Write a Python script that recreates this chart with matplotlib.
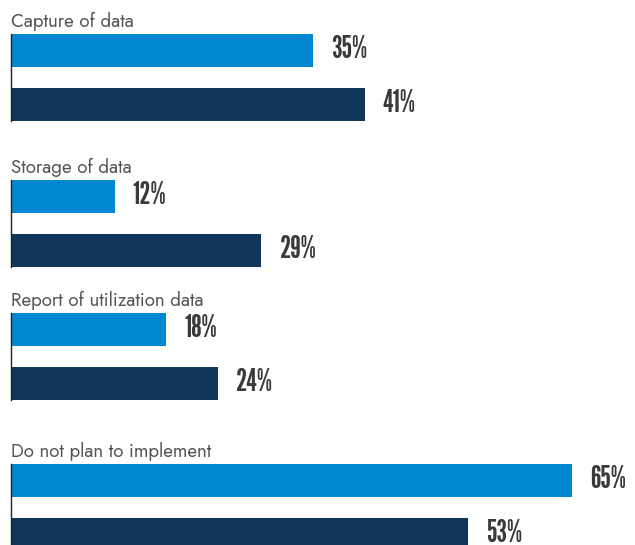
import matplotlib.pyplot as plt

categories = ["Capture of data", "Storage of data", "Report of utilization data",
              "Do not plan to implement"]
series_a = [35, 12, 18, 65]
series_b = [41, 29, 24, 53]

light = "#0288d1"
dark = "#10365a"

# layout in pixel rows (top of the first bar of each group)
group_tops = [34, 180, 313, 464]
bar_h = 33
gap = 54

label_font = ["Jost", "DejaVu Sans"]
num_font = ["League Gothic", "Pathway Gothic One", "DejaVu Sans"]

fig = plt.figure(figsize=(6.35, 5.45), dpi=100)
ax = fig.add_axes([11 / 635, 0, 1 - 11 / 635, 1])
ax.set_xlim(0, 624 / 8.63)
ax.set_ylim(545, 0)
ax.axis("off")

for cat, a, b, top in zip(categories, series_a, series_b, group_tops):
    ya = top + bar_h / 2
    yb = ya + gap
    ax.barh(ya, a, height=bar_h, color=light)
    ax.barh(yb, b, height=bar_h, color=dark)
    ax.plot([0, 0], [top, yb + bar_h / 2], color="#222222", lw=1, clip_on=False)
    ax.text(0, top - 7, cat, fontsize=13.5, color="#555555", va="baseline", ha="left",
            family=label_font)
    for v, y in [(a, ya), (b, yb)]:
        ax.text(v + 2.1, y - 1, f"{v}%", fontsize=22, color="#3a3a3a", va="center",
                ha="left", family=num_font)

fig.savefig("out.png", dpi=100)
